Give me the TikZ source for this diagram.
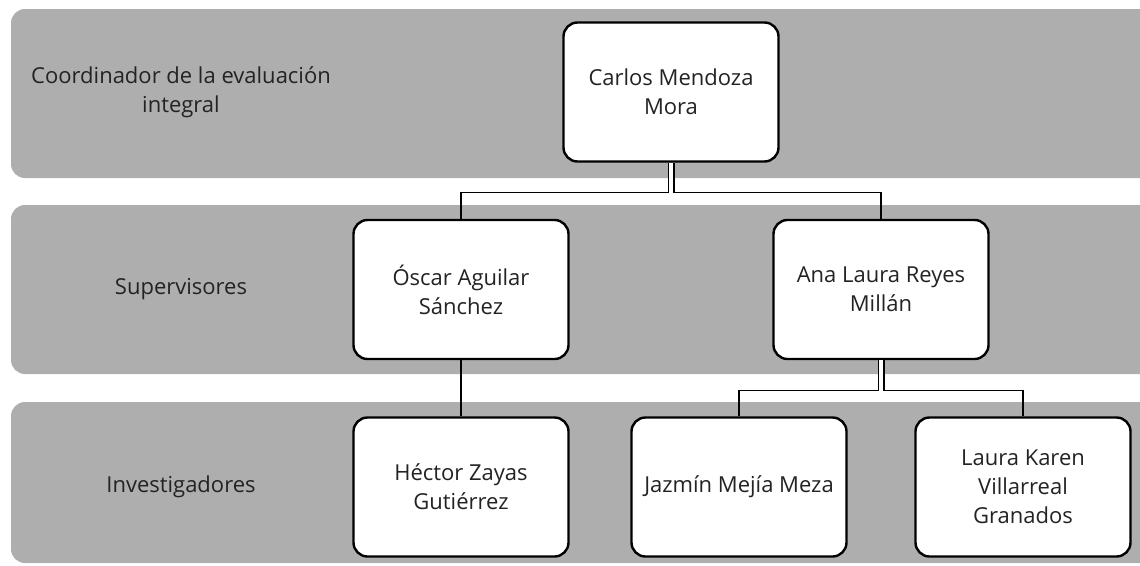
\documentclass[tikz,border=0pt]{standalone}
\usepackage{fontspec}
\setmainfont{Open Sans}
\usepackage{tikz}

\definecolor{bandgray}{RGB}{174,174,174}
\definecolor{inkgray}{RGB}{35,35,35}

\begin{document}
\begin{tikzpicture}[x=1pt, y=1pt, level distance=197.5pt,
  every node/.style = {align=center, text=inkgray, font=\fontsize{22}{29}\selectfont},
  person/.style = {shape=rectangle, draw=black, line width=2.4pt, rounded corners=14pt,
    fill=white, minimum width=215pt, minimum height=139pt},
  band/.style = {fill=bandgray, rounded corners=14pt},
  dbl/.style = {draw=black, line width=1.2pt, double=white, double distance=4.6pt},
  level 1/.style = {sibling distance=420pt},
  level 2/.style = {sibling distance=284pt},
  edge from parent/.style = {draw, line width=1.3pt},
  edge from parent path = {(\tikzparentnode.south) -- ++(0,-30) -| (\tikzchildnode.north)}]
  \useasboundingbox (0,0) rectangle (1140,-565);
  \fill[band] (11,-9) rectangle (1160,-178);
  \fill[band] (11,-205) rectangle (1160,-374);
  \fill[band] (11,-402) rectangle (1160,-563);
  \node (coordlbl) at (181,-92) {Coordinador de la evaluación\\integral};
  \node (suplbl) at (181,-289) {Supervisores};
  \node (invlbl) at (181,-487) {Investigadores};
  \node[person] (carlos) at (671,-92) {Carlos Mendoza\\Mora}
    child { node[person] (oscar) {Óscar Aguilar\\Sánchez}
      child { node[person] (hector) {Héctor Zayas\\Gutiérrez} }
    }
    child { node[person] (ana) {Ana Laura Reyes\\Millán}
      child { node[person] (jazmin) {Jazmín Mejía Meza} }
      child { node[person] (laura) {Laura Karen\\Villarreal\\Granados} }
    };
  \draw[dbl] (carlos.south) -- ++(0,-30.7);
  \draw[dbl] (ana.south) -- ++(0,-30.7);
\end{tikzpicture}
\end{document}
